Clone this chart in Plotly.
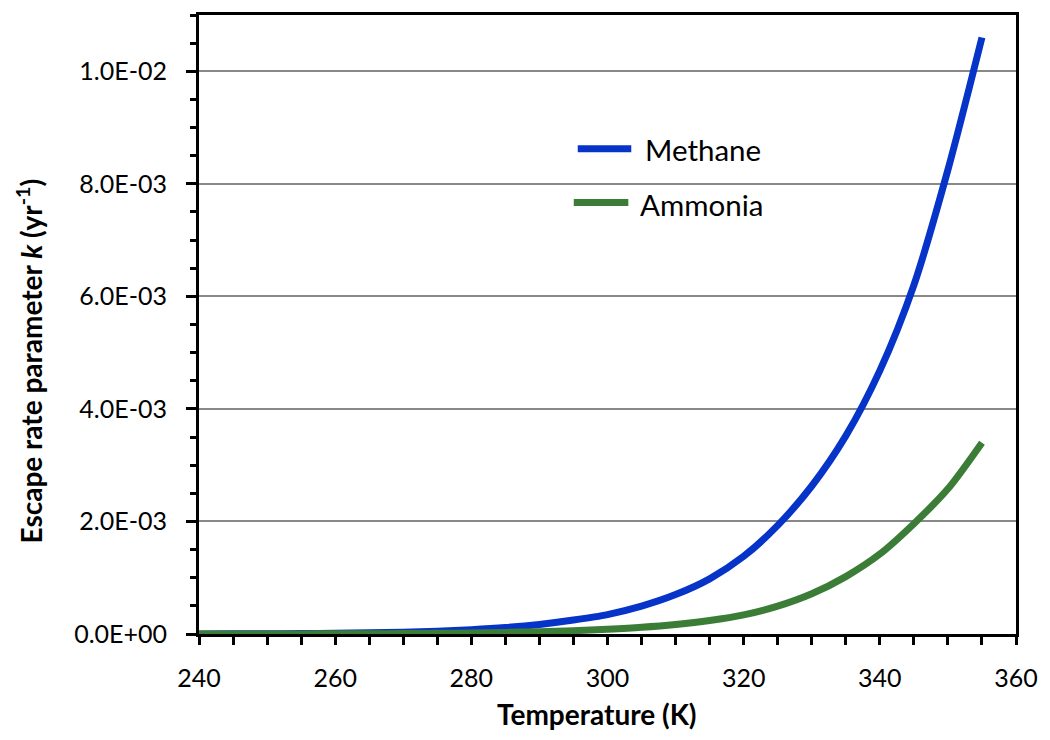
import plotly.graph_objects as go

# Temperature grid (K)
temperature = [240, 245, 250, 255, 260, 265, 270, 275, 280, 285, 290, 295,
               300, 305, 310, 315, 320, 325, 330, 335, 340, 345, 350, 355]

# Escape rate parameter k (yr^-1)
methane = [0.0000015, 0.0000027, 0.0000046, 0.0000076, 0.0000125, 0.000020,
           0.000032, 0.000049, 0.000076, 0.000114, 0.000170, 0.000248,
           0.000345, 0.000495, 0.000700, 0.000980, 0.001380, 0.001930,
           0.002630, 0.003520, 0.004680, 0.006200, 0.008250, 0.010600]
ammonia = [0.0000003, 0.0000006, 0.0000010, 0.0000017, 0.0000029, 0.0000048,
           0.0000078, 0.0000120, 0.0000185, 0.000028, 0.000040, 0.000058,
           0.000085, 0.000120, 0.000170, 0.000240, 0.000340, 0.000495,
           0.000715, 0.001020, 0.001420, 0.001960, 0.002580, 0.003400]

series_names = ["Methane", "Ammonia"]
series_colors = ["#0634c8", "#3b7d37"]

# Axis tick values / labels
x_labels = [240, 260, 280, 300, 320, 340, 360]
x_long_ticks = [250, 270, 290, 310, 330, 350]
y_labels = [0.0, 0.002, 0.004, 0.006, 0.008, 0.010]
y_label_text = ["0.0E+00", "2.0E-03", "4.0E-03", "6.0E-03", "8.0E-03", "1.0E-02"]
y_mid_ticks = [0.001, 0.003, 0.005, 0.007, 0.009]

FONT = "Lato"
x_range = [240, 360]
y_range = [0, 0.011]
LINE_W = 7

fig = go.Figure()
for name, ys, color in zip(series_names, [methane, ammonia], series_colors):
    fig.add_trace(go.Scatter(
        x=temperature, y=ys, name=name, mode="lines", showlegend=False,
        line=dict(color=color, width=LINE_W, shape="spline", smoothing=0.8),
    ))

# In-plot legend: a short line sample followed by the series name
legend_rows = [
    dict(x0=0.4636, x1=0.5291, y=0.7838, tx=0.5437, ty=0.783),
    dict(x0=0.4587, x1=0.5255, y=0.6969, tx=0.5376, ty=0.694),
]
shapes = []
annotations = []
for row, name, color in zip(legend_rows, series_names, series_colors):
    shapes.append(dict(type="line", xref="paper", yref="paper",
                       x0=row["x0"], x1=row["x1"], y0=row["y"], y1=row["y"],
                       line=dict(color=color, width=LINE_W)))
    annotations.append(dict(text=name, xref="paper", yref="paper",
                            x=row["tx"], y=row["ty"], xanchor="left",
                            yanchor="middle", showarrow=False,
                            font=dict(size=29.5, family=FONT, color="black")))

annotations += [
    dict(text="<b>Temperature (K)</b>", xref="paper", yref="paper",
         x=0.487, y=-0.130, xanchor="center", yanchor="middle",
         showarrow=False, font=dict(size=28, family=FONT)),
    dict(text="<b>Escape rate parameter <i>k</i> (yr<sup>-1</sup>)</b>",
         xref="paper", yref="paper", x=-0.2075, y=0.441,
         xanchor="center", yanchor="middle", textangle=-90,
         showarrow=False, font=dict(size=28, family=FONT)),
]

fig.update_layout(
    width=1050, height=740,
    margin=dict(l=199, r=27, t=13, b=106),
    paper_bgcolor="white", plot_bgcolor="white",
    font=dict(family=FONT, size=25, color="black"),
    showlegend=False,
    xaxis=dict(
        range=x_range, tickvals=x_labels, ticktext=[str(v) for v in x_labels],
        ticks="outside", ticklen=8, tickwidth=2.5, tickcolor="black",
        showline=True, linecolor="black", linewidth=3, mirror=True,
        showgrid=False, zeroline=False, ticklabelstandoff=12,
        minor=dict(dtick=5, tick0=240, ticks="outside", ticklen=8,
                   tickwidth=2.5, tickcolor="black", showgrid=False),
    ),
    xaxis2=dict(
        range=x_range, overlaying="x", anchor="y", side="bottom",
        tickvals=x_long_ticks, showticklabels=False,
        ticks="outside", ticklen=14, tickwidth=3, tickcolor="black",
        showline=False, showgrid=False, zeroline=False,
    ),
    yaxis=dict(
        range=y_range, tickvals=y_labels, ticktext=y_label_text,
        ticks="outside", ticklen=10, tickwidth=3, tickcolor="black",
        showline=True, linecolor="black", linewidth=3, mirror=True,
        showgrid=True, gridcolor="#888888", gridwidth=2, zeroline=False,
        ticklabelstandoff=14,
        minor=dict(dtick=0.0005, tick0=0, ticks="outside", ticklen=6,
                   tickwidth=2.5, tickcolor="black", showgrid=False),
    ),
    yaxis2=dict(
        range=y_range, overlaying="y", anchor="x", side="left",
        tickvals=y_mid_ticks, showticklabels=False,
        ticks="outside", ticklen=10, tickwidth=3, tickcolor="black",
        showline=False, showgrid=False, zeroline=False,
    ),
    shapes=shapes,
    annotations=annotations,
)

fig.write_html("out.html")
